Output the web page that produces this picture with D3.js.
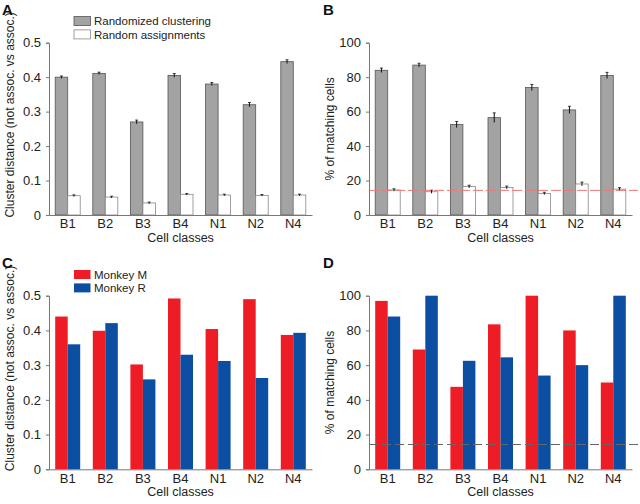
<!DOCTYPE html>
<html><head><meta charset="utf-8">
<script src="https://cdn.jsdelivr.net/npm/d3@7"></script>
<style>
body{margin:0;background:#fff;}
svg{display:block;font-family:"Liberation Sans",Arial,Helvetica,sans-serif;}
</style></head>
<body><svg id="c" width="640" height="504"></svg>
<script>
const categories = ["B1","B2","B3","B4","N1","N2","N4"];
// Panel A
const aRandClust = [0.400,0.411,0.270,0.405,0.380,0.320,0.445];
const aRandClustErr = [0.002,0.002,0.004,0.004,0.003,0.005,0.004];
const aRandAssign = [0.056,0.052,0.035,0.060,0.058,0.057,0.058];
const aRandAssignErr = [0.001,0.001,0.001,0.001,0.001,0.001,0.001];
const aTicks = [0,0.1,0.2,0.3,0.4,0.5];
// Panel B
const bRandClust = [84,87,52.5,56.5,74,61,81];
const bRandClustErr = [1,0.8,1.5,2.5,1.5,1.8,1.5];
const bRandAssign = [14.5,13.5,16.5,16,12.5,18,15];
const bRandAssignErr = [0.4,0.6,0.5,0.5,0.4,0.8,0.6];
const pctTicks = [0,20,40,60,80,100];
const chanceLevel = 100/7;
// Panel C
const cMonkeyM = [0.440,0.399,0.302,0.492,0.404,0.490,0.387];
const cMonkeyR = [0.360,0.421,0.259,0.330,0.312,0.263,0.393];
// Panel D
const dMonkeyM = [97,69,47.5,83.5,100,80,50];
const dMonkeyR = [88,100,62.5,64.5,54,60,100];

const svg = d3.select("#c");
const FS = 13;

function panel(o){
  const g = svg.append("g");
  const x = d3.scaleBand().domain(categories).range([o.x0,o.x1]).paddingInner(0.335).paddingOuter(0.165);
  const y = d3.scaleLinear().domain([0,o.ymax]).range([o.y0,o.y1]);
  const sub = d3.scaleBand().domain([0,1]).range([0,x.bandwidth()]);
  o.series.forEach((s,si)=>{
    g.selectAll(null).data(s.values).enter().append("rect")
      .attr("x",(d,i)=>x(categories[i])+sub(si))
      .attr("width",sub.bandwidth())
      .attr("y",d=>y(d))
      .attr("height",d=>y(0)-y(d))
      .attr("fill",s.fill)
      .attr("stroke",s.stroke||"none")
      .attr("stroke-width",s.stroke?0.8:0);
    if(s.err){
      const eg = g.selectAll(null).data(s.values).enter().append("g");
      eg.append("line")
        .attr("x1",(d,i)=>x(categories[i])+sub(si)+sub.bandwidth()/2)
        .attr("x2",(d,i)=>x(categories[i])+sub(si)+sub.bandwidth()/2)
        .attr("y1",(d,i)=>y(d+s.err[i])-0.5)
        .attr("y2",(d,i)=>y(d-s.err[i])+0.5)
        .attr("stroke","#111").attr("stroke-width",1);
      eg.append("line")
        .attr("x1",(d,i)=>x(categories[i])+sub(si)+sub.bandwidth()/2-1.5)
        .attr("x2",(d,i)=>x(categories[i])+sub(si)+sub.bandwidth()/2+1.5)
        .attr("y1",(d,i)=>y(d+s.err[i])-0.5)
        .attr("y2",(d,i)=>y(d+s.err[i])-0.5)
        .attr("stroke","#111").attr("stroke-width",0.8);
    }
  });
  if(o.ref){
    g.append("line").attr("x1",o.x0).attr("x2",o.x1+6)
      .attr("y1",y(o.ref.v)).attr("y2",y(o.ref.v))
      .attr("stroke",o.ref.color).attr("stroke-width",1)
      .attr("stroke-dasharray",o.ref.dash);
  }
  const yAxis = d3.axisLeft(y).tickValues(o.ticks).tickSize(3).tickPadding(5).tickFormat(o.fmt);
  const ya = g.append("g").attr("transform",`translate(${o.x0},0)`).call(yAxis);
  ya.select(".domain").attr("stroke","#777");
  ya.selectAll(".tick line").attr("stroke","#777");
  ya.selectAll("text").attr("font-size",FS).attr("fill","#222").attr("font-family","Liberation Sans, Arial, sans-serif");
  const xAxis = d3.axisBottom(x).tickSize(0).tickPadding(4);
  const xa = g.append("g").attr("transform",`translate(0,${o.y0})`).call(xAxis);
  xa.select(".domain").attr("stroke","#777");
  xa.selectAll("text").attr("font-size",FS).attr("fill","#222").attr("font-family","Liberation Sans, Arial, sans-serif");
  g.append("text").attr("x",(o.x0+o.x1)/2).attr("y",o.y0+27).attr("text-anchor","middle")
    .attr("font-size",12.5).attr("fill","#222").text("Cell classes");
  g.append("text").attr("transform",`translate(${o.x0-35},${(o.y0+o.y1)/2+o.ytitleShift}) rotate(-90)`)
    .attr("text-anchor","middle").attr("font-size",12).attr("fill","#222").text(o.ytitle);
  g.append("text").attr("x",o.lx).attr("y",o.ly).attr("font-size",15).attr("font-weight","bold")
    .attr("fill","#111").text(o.letter);
  if(o.legend){
    o.legend.forEach((l,i)=>{
      g.append("rect").attr("x",o.legendX).attr("y",o.legendY+i*13.4).attr("width",16.5).attr("height",9)
        .attr("fill",l.fill).attr("stroke",l.stroke||"none").attr("stroke-width",l.stroke?0.8:0);
      g.append("text").attr("x",o.legendX+20).attr("y",o.legendY+i*13.4+8.8)
        .attr("font-size",11.5).attr("fill","#222").text(l.label);
    });
  }
}

const gray = "#a3a3a3", grayStroke="#555", whiteStroke="#888";
const red = "#ee1c25", blue = "#0b4ea2";
const fmtDec = d3.format(".1f");
const fmtA = d=> d===0?"0":fmtDec(d);

panel({x0:49,x1:312,y0:215,y1:42.7,ymax:0.5,ticks:aTicks,fmt:fmtA,
  ytitle:"Cluster distance (not assoc. vs assoc.)",ytitleShift:-14,letter:"A",lx:2,ly:15,
  series:[{values:aRandClust,err:aRandClustErr,fill:gray,stroke:grayStroke},
          {values:aRandAssign,err:aRandAssignErr,fill:"#fff",stroke:whiteStroke}],
  legend:[{label:"Randomized clustering",fill:gray,stroke:grayStroke},{label:"Random assignments",fill:"#fff",stroke:whiteStroke}],
  legendX:74,legendY:16.5});

panel({x0:369,x1:632,y0:215,y1:42.7,ymax:100,ticks:pctTicks,fmt:d3.format("d"),
  ytitle:"% of matching cells",ytitleShift:0,letter:"B",lx:323,ly:15,
  series:[{values:bRandClust,err:bRandClustErr,fill:gray,stroke:grayStroke},
          {values:bRandAssign,err:bRandAssignErr,fill:"#fff",stroke:whiteStroke}],
  ref:{v:chanceLevel,color:"#e77",dash:"10,3"}});

panel({x0:49,x1:312,y0:469.3,y1:295.7,ymax:0.5,ticks:aTicks,fmt:fmtA,
  ytitle:"Cluster distance (not assoc. vs assoc.)",ytitleShift:-14,letter:"C",lx:2,ly:268,
  series:[{values:cMonkeyM,fill:red},{values:cMonkeyR,fill:blue}],
  legend:[{label:"Monkey M",fill:red},{label:"Monkey R",fill:blue}],
  legendX:74,legendY:270});

panel({x0:369,x1:632,y0:469.3,y1:295.7,ymax:100,ticks:pctTicks,fmt:d3.format("d"),
  ytitle:"% of matching cells",ytitleShift:0,letter:"D",lx:323,ly:268,
  series:[{values:dMonkeyM,fill:red},{values:dMonkeyR,fill:blue}],
  ref:{v:chanceLevel,color:"#666",dash:"9,4"}});
</script></body></html>
